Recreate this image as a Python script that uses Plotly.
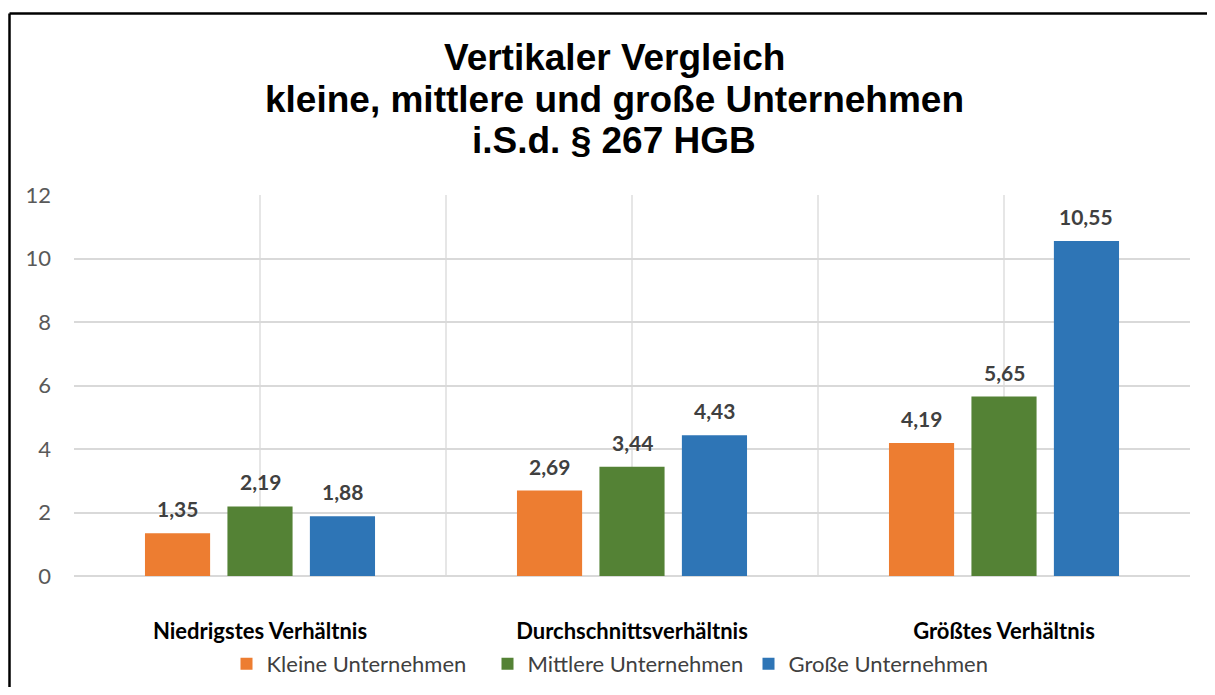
import plotly.graph_objects as go

categories = ["Niedrigstes Verhältnis", "Durchschnittsverhältnis", "Größtes Verhältnis"]
series_names = ["Kleine Unternehmen", "Mittlere Unternehmen", "Große Unternehmen"]
kleine = [1.35, 2.69, 4.19]
mittlere = [2.19, 3.44, 5.65]
grosse = [1.88, 4.43, 10.55]
colors = ["#ED7D31", "#548235", "#2E75B6"]
y_ticks = [0, 2, 4, 6, 8, 10, 12]
title_lines = ["Vertikaler Vergleich", "kleine, mittlere und große Unternehmen", "i.S.d. § 267 HGB"]

OFF = 8  # default page body margin
W, H = 1215 - 2 * OFF, 695 - 2 * OFF
ML = 74 - OFF
MT = 195 - OFF
MR = W - (1190 - OFF)
MB = H - (576 - OFF)
pw, ph = W - ML - MR, H - MT - MB
FONT = "Lato, Noto Sans, sans-serif"


def py2paper(py):
    return (MT + ph - (py - OFF)) / ph


def px2paper(px):
    return ((px - OFF) - ML) / pw


xs = list(range(len(categories)))
fig = go.Figure()
all_series = [kleine, mittlere, grosse]
for name, vals, col in zip(series_names, all_series, colors):
    fig.add_trace(go.Bar(x=xs, y=vals, name=name, marker=dict(color=col, line=dict(width=0))))

# data labels
slot = 0.665 / 3  # in category units
for i, vals in enumerate(all_series):
    for x, v in zip(xs, vals):
        fig.add_annotation(
            x=x + (i - 1) * slot, y=v, xref="x", yref="y",
            text=f"{v:.2f}".replace(".", ","), showarrow=False,
            yanchor="bottom", yshift=10,
            font=dict(family=FONT, size=21, color="#404040", weight="bold"),
        )

# title lines
title_y = [57, 99, 140]
for line, py in zip(title_lines, title_y):
    fig.add_annotation(
        x=px2paper(614), y=py2paper(py), xref="paper", yref="paper",
        text=line, showarrow=False, xanchor="center", yanchor="middle",
        font=dict(family="Liberation Sans, Arial, sans-serif", size=37, color="black", weight="bold"),
    )

fig.update_layout(
    width=W, height=H,
    margin=dict(l=ML, r=MR, t=MT, b=MB, autoexpand=False),
    paper_bgcolor="white", plot_bgcolor="white",
    barmode="group", bargap=0.335, bargroupgap=0.21,
    xaxis=dict(
        range=[-0.5, len(categories) - 0.5],
        tickvals=xs, ticktext=categories,
        showgrid=False, zeroline=False,
        showline=False, ticks="",
        ticklabelstandoff=40, automargin=False,
        tickfont=dict(family=FONT, size=22, color="black", weight="bold"),
        minor=dict(tick0=-0.5, dtick=0.5, showgrid=True, gridcolor="#E6E6E6", gridwidth=1.5),
    ),
    yaxis=dict(
        range=[0, 12], tickvals=y_ticks, automargin=False,
        showgrid=True, gridcolor="#D9D9D9", gridwidth=1.5,
        zeroline=True, zerolinecolor="#D9D9D9", zerolinewidth=1.5,
        tickfont=dict(family=FONT, size=22, color="#595959"),
        ticklabelstandoff=22,
    ),
    legend=dict(
        orientation="h", x=px2paper(618), xanchor="center", y=py2paper(664),
        yanchor="middle",
        font=dict(family=FONT, size=22, color="#404040"),
        itemwidth=30, tracegroupgap=0, entrywidth=216,
    ),
    showlegend=True,
)

# outer border (only top and left edges are visible in the reference)
border = dict(color="black", width=2.5)
fig.add_shape(type="line", xref="paper", yref="paper",
              x0=px2paper(9.5), x1=px2paper(1300), y0=py2paper(13.5), y1=py2paper(13.5),
              line=border, layer="below")
fig.add_shape(type="line", xref="paper", yref="paper",
              x0=px2paper(9.5), x1=px2paper(9.5), y0=py2paper(13.5), y1=py2paper(760),
              line=border, layer="below")

fig.write_html(
    "out.html",
    config={"displayModeBar": False},
    post_script="document.documentElement.style.overflow='hidden';document.body.style.overflow='hidden';",
)
